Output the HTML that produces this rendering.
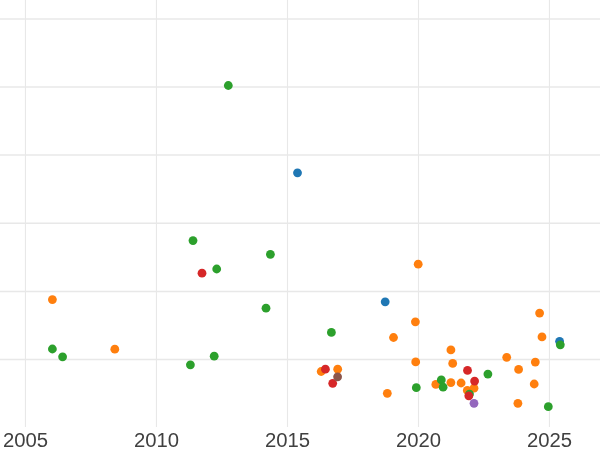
<!DOCTYPE html>
<html><head><meta charset="utf-8"><style>
html,body{margin:0;padding:0;background:#fff;width:600px;height:450px;overflow:hidden}
svg{display:block;will-change:transform}
text{font-family:"Liberation Sans",sans-serif;font-size:19.5px;fill:#404040}
</style></head><body>
<svg width="600" height="450" viewBox="0 0 600 450">
<rect width="600" height="450" fill="#ffffff"/>
<line x1="25.45" y1="0" x2="25.45" y2="427" stroke="#e8e8e8" stroke-width="1.1"/>
<line x1="156.45" y1="0" x2="156.45" y2="427" stroke="#e8e8e8" stroke-width="1.1"/>
<line x1="287.5" y1="0" x2="287.5" y2="427" stroke="#e8e8e8" stroke-width="1.1"/>
<line x1="418.5" y1="0" x2="418.5" y2="427" stroke="#e8e8e8" stroke-width="1.1"/>
<line x1="549.45" y1="0" x2="549.45" y2="427" stroke="#e8e8e8" stroke-width="1.1"/>
<line x1="0" y1="19.0" x2="600" y2="19.0" stroke="#e8e8e8" stroke-width="1.5"/>
<line x1="0" y1="87.0" x2="600" y2="87.0" stroke="#e8e8e8" stroke-width="1.5"/>
<line x1="0" y1="155.1" x2="600" y2="155.1" stroke="#e8e8e8" stroke-width="1.5"/>
<line x1="0" y1="223.2" x2="600" y2="223.2" stroke="#e8e8e8" stroke-width="1.5"/>
<line x1="0" y1="291.45" x2="600" y2="291.45" stroke="#e8e8e8" stroke-width="1.5"/>
<line x1="0" y1="359.55" x2="600" y2="359.55" stroke="#e8e8e8" stroke-width="1.5"/>
<circle cx="297.5" cy="172.8" r="4.4" fill="#1f77b4"/>
<circle cx="385.2" cy="301.8" r="4.4" fill="#1f77b4"/>
<circle cx="559.6" cy="341.3" r="4.4" fill="#1f77b4"/>
<circle cx="52.4" cy="299.6" r="4.4" fill="#ff7f0e"/>
<circle cx="114.8" cy="349.2" r="4.4" fill="#ff7f0e"/>
<circle cx="321.2" cy="371.5" r="4.4" fill="#ff7f0e"/>
<circle cx="337.7" cy="369.2" r="4.4" fill="#ff7f0e"/>
<circle cx="418.2" cy="264.2" r="4.4" fill="#ff7f0e"/>
<circle cx="415.4" cy="321.8" r="4.4" fill="#ff7f0e"/>
<circle cx="393.5" cy="337.5" r="4.4" fill="#ff7f0e"/>
<circle cx="415.7" cy="361.9" r="4.4" fill="#ff7f0e"/>
<circle cx="387.3" cy="393.3" r="4.4" fill="#ff7f0e"/>
<circle cx="450.9" cy="349.9" r="4.4" fill="#ff7f0e"/>
<circle cx="452.7" cy="363.4" r="4.4" fill="#ff7f0e"/>
<circle cx="435.8" cy="384.4" r="4.4" fill="#ff7f0e"/>
<circle cx="450.9" cy="382.6" r="4.4" fill="#ff7f0e"/>
<circle cx="461.1" cy="383.0" r="4.4" fill="#ff7f0e"/>
<circle cx="467.3" cy="390.4" r="4.4" fill="#ff7f0e"/>
<circle cx="474.0" cy="388.2" r="4.4" fill="#ff7f0e"/>
<circle cx="539.6" cy="313.1" r="4.4" fill="#ff7f0e"/>
<circle cx="542.0" cy="336.9" r="4.4" fill="#ff7f0e"/>
<circle cx="506.7" cy="357.3" r="4.4" fill="#ff7f0e"/>
<circle cx="535.3" cy="362.1" r="4.4" fill="#ff7f0e"/>
<circle cx="518.6" cy="369.4" r="4.4" fill="#ff7f0e"/>
<circle cx="534.2" cy="384.0" r="4.4" fill="#ff7f0e"/>
<circle cx="517.9" cy="403.3" r="4.4" fill="#ff7f0e"/>
<circle cx="228.3" cy="85.5" r="4.4" fill="#2ca02c"/>
<circle cx="193.0" cy="240.6" r="4.4" fill="#2ca02c"/>
<circle cx="216.7" cy="269.0" r="4.4" fill="#2ca02c"/>
<circle cx="270.4" cy="254.3" r="4.4" fill="#2ca02c"/>
<circle cx="52.4" cy="349.0" r="4.4" fill="#2ca02c"/>
<circle cx="62.6" cy="356.8" r="4.4" fill="#2ca02c"/>
<circle cx="266.0" cy="308.2" r="4.4" fill="#2ca02c"/>
<circle cx="214.2" cy="356.2" r="4.4" fill="#2ca02c"/>
<circle cx="190.4" cy="364.8" r="4.4" fill="#2ca02c"/>
<circle cx="331.4" cy="332.4" r="4.4" fill="#2ca02c"/>
<circle cx="416.3" cy="387.7" r="4.4" fill="#2ca02c"/>
<circle cx="487.9" cy="374.1" r="4.4" fill="#2ca02c"/>
<circle cx="441.3" cy="379.9" r="4.4" fill="#2ca02c"/>
<circle cx="443.1" cy="387.2" r="4.4" fill="#2ca02c"/>
<circle cx="469.5" cy="394.1" r="4.4" fill="#2ca02c"/>
<circle cx="560.3" cy="344.8" r="4.4" fill="#2ca02c"/>
<circle cx="548.3" cy="406.7" r="4.4" fill="#2ca02c"/>
<circle cx="202.0" cy="273.2" r="4.4" fill="#d62728"/>
<circle cx="325.4" cy="369.2" r="4.4" fill="#d62728"/>
<circle cx="332.7" cy="383.3" r="4.4" fill="#d62728"/>
<circle cx="467.5" cy="370.4" r="4.4" fill="#d62728"/>
<circle cx="474.6" cy="381.1" r="4.4" fill="#d62728"/>
<circle cx="468.8" cy="395.8" r="4.4" fill="#d62728"/>
<circle cx="474.0" cy="403.3" r="4.4" fill="#9467bd"/>
<circle cx="337.6" cy="376.8" r="4.4" fill="#8c564b"/>
<text transform="translate(25.45,447) scale(1.04,1)" text-anchor="middle">2005</text>
<text transform="translate(156.45,447) scale(1.04,1)" text-anchor="middle">2010</text>
<text transform="translate(287.5,447) scale(1.04,1)" text-anchor="middle">2015</text>
<text transform="translate(418.5,447) scale(1.04,1)" text-anchor="middle">2020</text>
<text transform="translate(549.45,447) scale(1.04,1)" text-anchor="middle">2025</text>
</svg>
</body></html>
